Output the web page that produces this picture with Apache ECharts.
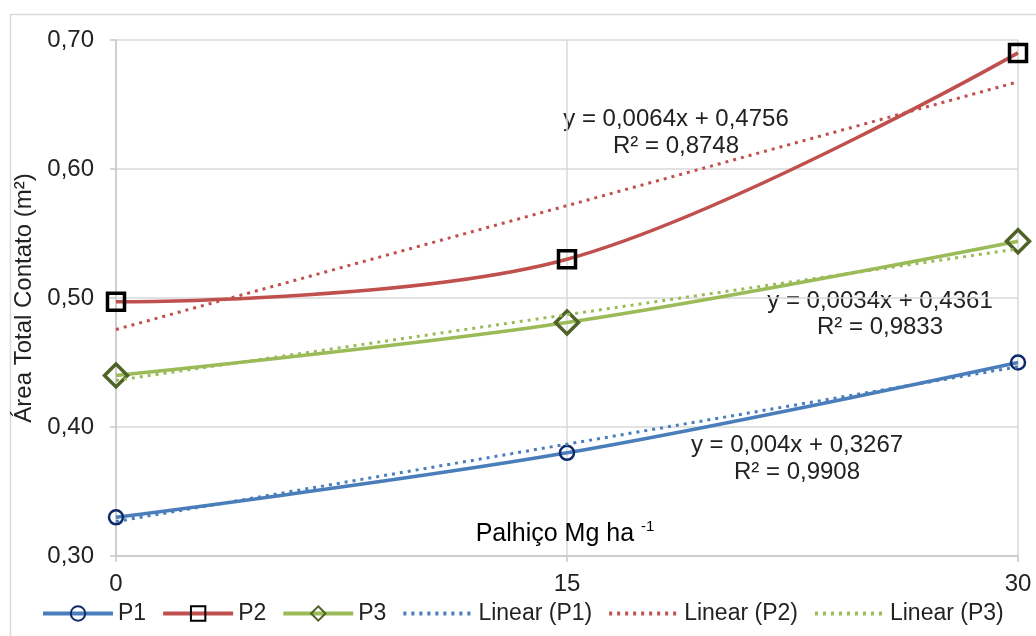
<!DOCTYPE html>
<html>
<head>
<meta charset="utf-8">
<script src="https://cdn.jsdelivr.net/npm/echarts@6/dist/echarts.min.js"></script>
<style>
html,body{margin:0;padding:0;background:#fff;}
#c{width:1036px;height:636px;}
</style>
</head>
<body>
<div id="c"></div>
<script>
// ---- data ----
const xValues = [0, 15, 30];
const xTicks = [0, 15, 30];
const yTicks = [0.30, 0.40, 0.50, 0.60, 0.70];
const p1 = [0.330, 0.380, 0.450];
const p2 = [0.497, 0.530, 0.690];
const p3 = [0.440, 0.481, 0.544];
const linP1 = [0.3267, 0.3867, 0.4467];
const linP2 = [0.4756, 0.5716, 0.6676];
const linP3 = [0.4361, 0.4871, 0.5381];
const seriesNames = ['P1', 'P2', 'P3', 'Linear (P1)', 'Linear (P2)', 'Linear (P3)'];
const equations = [
  ['y = 0,0064x + 0,4756', 'R² = 0,8748'],
  ['y = 0,0034x + 0,4361', 'R² = 0,9833'],
  ['y = 0,004x + 0,3267', 'R² = 0,9908']
];
const xTitle = 'Palhiço Mg ha ';
const xTitleSup = '-1';
const yTitle = 'Área Total Contato (m²)';

const FONT = 'Liberation Sans, Arial, sans-serif';
const FS = 24;
const TXT = '#222';
const pairs = arr => xValues.map((x, i) => [x, arr[i]]);

const chart = echarts.init(document.getElementById('c'), null, {renderer: 'canvas'});

function mainSeries(name, data, color, symbol, size, mColor, mWidth) {
  return {
    name, type: 'line', data: pairs(data), smooth: 0.35,
    symbol, symbolSize: size, showSymbol: true,
    lineStyle: {color, width: 3.5},
    itemStyle: {color: 'rgba(0,0,0,0)', borderColor: mColor, borderWidth: mWidth},
    z: 3
  };
}
function trendSeries(name, data, color) {
  return {
    name, type: 'line', data: pairs(data), smooth: false,
    symbol: 'none', showSymbol: false,
    lineStyle: {color, width: 3, type: [3, 5]},
    itemStyle: {color: 'rgba(0,0,0,0)', borderWidth: 0},
    z: 4
  };
}

const option = {
  animation: false,
  backgroundColor: '#fff',
  grid: {left: 116, right: 18, top: 40, bottom: 80},
  xAxis: {
    type: 'value', min: 0, max: 30, interval: 15,
    axisLine: {show: true, onZero: false, lineStyle: {color: '#c8c8c8', width: 1.5}},
    axisTick: {show: true, length: 6, lineStyle: {color: '#c8c8c8', width: 1.5}},
    splitLine: {show: true, lineStyle: {color: '#d9d9d9', width: 1.5}},
    axisLabel: {
      fontFamily: FONT, fontSize: FS, color: TXT, margin: 16,
      formatter: v => xTicks.includes(v) ? String(v) : ''
    }
  },
  yAxis: {
    type: 'value', min: 0.30, max: 0.70, interval: 0.10,
    name: yTitle, nameLocation: 'middle', nameGap: 72, nameRotate: 90,
    nameTextStyle: {fontFamily: FONT, fontSize: FS, color: TXT},
    axisLine: {show: true, lineStyle: {color: '#c8c8c8', width: 1.5}},
    axisTick: {show: true, length: 6, lineStyle: {color: '#c8c8c8', width: 1.5}},
    splitLine: {show: true, lineStyle: {color: '#d9d9d9', width: 1.5}},
    axisLabel: {
      fontFamily: FONT, fontSize: FS, color: TXT, margin: 22,
      formatter: v => {
        const t = yTicks.find(k => Math.abs(k - v) < 1e-6);
        return t === undefined ? '' : t.toFixed(2).replace('.', ',');
      }
    }
  },
  legend: {
    data: seriesNames,
    left: 36, top: 597, width: 1000,
    itemWidth: 70, itemHeight: 18, itemGap: 15,
    lineStyle: {width: 4},
    textStyle: {fontFamily: FONT, fontSize: 23, color: TXT}
  },
  series: [
    mainSeries('P1', p1, '#4A7EBB', 'circle', 14, '#0F2A6B', 2.5),
    mainSeries('P2', p2, '#C0504D', 'rect', 17, '#000000', 3.5),
    mainSeries('P3', p3, '#9BBB59', 'diamond', 23, '#4F6228', 3.5),
    trendSeries('Linear (P1)', linP1, '#4A7EBB'),
    trendSeries('Linear (P2)', linP2, '#C0504D'),
    trendSeries('Linear (P3)', linP3, '#9BBB59')
  ],
  graphic: [
    {type: 'rect', left: 8, top: 12, shape: {width: 1040, height: 640},
     style: {fill: 'none', stroke: '#d9d9d9', lineWidth: 1.5}, silent: true, z: -10},
    {type: 'text', x: 676, y: 119, style: {text: equations[0][0], font: FS + 'px ' + FONT, fill: TXT, textAlign: 'center', textVerticalAlign: 'middle'}},
    {type: 'text', x: 676, y: 146, style: {text: equations[0][1], font: FS + 'px ' + FONT, fill: TXT, textAlign: 'center', textVerticalAlign: 'middle'}},
    {type: 'text', x: 880, y: 301, style: {text: equations[1][0], font: FS + 'px ' + FONT, fill: TXT, textAlign: 'center', textVerticalAlign: 'middle'}},
    {type: 'text', x: 880, y: 327, style: {text: equations[1][1], font: FS + 'px ' + FONT, fill: TXT, textAlign: 'center', textVerticalAlign: 'middle'}},
    {type: 'text', x: 797, y: 445, style: {text: equations[2][0], font: FS + 'px ' + FONT, fill: TXT, textAlign: 'center', textVerticalAlign: 'middle'}},
    {type: 'text', x: 797, y: 472, style: {text: equations[2][1], font: FS + 'px ' + FONT, fill: TXT, textAlign: 'center', textVerticalAlign: 'middle'}},
    {type: 'text', x: 565, y: 533, z: 10,
     style: {
       text: '{a|' + xTitle + '}{s|' + xTitleSup + '}',
       textAlign: 'center', textVerticalAlign: 'middle',
       rich: {
         a: {fontFamily: FONT, fontSize: 25, color: TXT, lineHeight: 28, verticalAlign: 'bottom'},
         s: {fontFamily: FONT, fontSize: 15, color: TXT, lineHeight: 28, verticalAlign: 'top', padding: [0, 0, 10, 0]}
       }
     }}
  ]
};
chart.setOption(option);
</script>
</body>
</html>
